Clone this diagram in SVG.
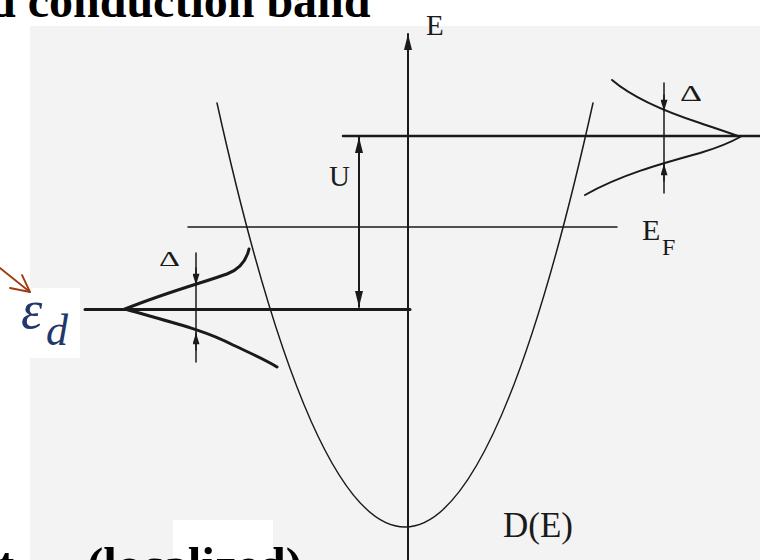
<svg xmlns="http://www.w3.org/2000/svg" width="760" height="560" viewBox="0 0 760 560">
<defs>
<style>
.ln{fill:none;stroke:#1a1a1a;stroke-linecap:round}
.thin{stroke-width:1.5}
.mid{stroke-width:2}
.thick{stroke-width:3}
.lbl{font-family:"Liberation Serif","DejaVu Serif",serif;fill:#1a1a1a}
.big{font-family:"Liberation Serif","Times New Roman",serif;font-weight:bold;fill:#000}
</style>
<marker id="ah" viewBox="0 0 20 10" refX="20" refY="5" markerWidth="16" markerHeight="8" markerUnits="userSpaceOnUse" orient="auto-start-reverse">
<path d="M0,0 L20,5 L0,10 Z" fill="#1a1a1a"/>
</marker>
<marker id="ahs" viewBox="0 0 16 10" refX="16" refY="5" markerWidth="14" markerHeight="7" markerUnits="userSpaceOnUse" orient="auto">
<path d="M0,0 L16,5 L0,10 Z" fill="#1a1a1a"/>
</marker>
</defs>
<rect width="760" height="560" fill="#ffffff"/>
<rect x="30" y="26" width="730" height="534" fill="#f3f3f3"/>
<rect x="0" y="288" width="80" height="70" fill="#ffffff"/>
<rect x="173" y="520" width="100" height="40" fill="#ffffff"/>

<g id="title"><text class="big" x="-11" y="17" font-size="48">d conduction band</text></g>

<g id="axis">
<line class="ln mid" x1="408" y1="560" x2="408" y2="34" marker-end="url(#ah)"/>
<text class="lbl" x="426" y="35" font-size="29">E</text>
</g>

<g id="band">
<path class="ln thin" d="M217,103 Q405,951 593,103"/>
<text class="lbl" x="503" y="537" font-size="35">D(E)</text>
</g>

<g id="levels">
<line class="ln" stroke-width="2.5" x1="343" y1="136" x2="760" y2="136"/>
<line class="ln thin" x1="188" y1="227" x2="617" y2="227"/>
<line class="ln thick" x1="85" y1="309.5" x2="410" y2="309.5"/>
<text class="lbl" x="642" y="240" font-size="30">E</text>
<text class="lbl" x="662" y="255" font-size="24">F</text>
</g>

<g id="U">
<line class="ln mid" x1="359" y1="150" x2="359" y2="293"/>
<line class="ln mid" x1="359" y1="200" x2="359" y2="137" marker-end="url(#ah)"/>
<line class="ln mid" x1="359" y1="250" x2="359" y2="307" marker-end="url(#ah)"/>
<text class="lbl" x="329" y="186" font-size="29">U</text>
</g>

<g id="upper-resonance">
<path class="ln mid" d="M612,80 C632,97 660,110 700,123 C720,130 733,134 740,137 C733,141 720,147 700,153 C660,164 620,175 585,195"/>
<line class="ln thin" x1="664" y1="83" x2="664" y2="193"/>
<line class="ln thin" x1="664" y1="95" x2="664" y2="111" marker-end="url(#ahs)"/>
<line class="ln thin" x1="664" y1="181" x2="664" y2="164" marker-end="url(#ahs)"/>
<text class="lbl" x="680" y="101" font-size="24" textLength="22" lengthAdjust="spacingAndGlyphs">Δ</text>
</g>

<g id="lower-resonance">
<path class="ln thick" d="M249,249 C246,262 238,270 227,274 C205,282 170,291 125,309 C170,322 205,330 233,345 C252,354 266,360 277,367"/>
<line class="ln thin" x1="196" y1="253" x2="196" y2="362"/>
<line class="ln thin" x1="196" y1="268" x2="196" y2="285" marker-end="url(#ahs)"/>
<line class="ln thin" x1="196" y1="350" x2="196" y2="333" marker-end="url(#ahs)"/>
<text class="lbl" x="159" y="266" font-size="22" textLength="21" lengthAdjust="spacingAndGlyphs">Δ</text>
</g>

<g id="eps-label">
<line x1="0" y1="268" x2="30" y2="292" stroke="#a03c10" stroke-width="1.8" stroke-linecap="round"/>
<polyline points="10,288 30,292 22,275" fill="none" stroke="#a03c10" stroke-width="1.8" stroke-linecap="round" stroke-linejoin="round"/>
<text x="21" y="328" font-family="'Liberation Serif','DejaVu Serif',serif" font-style="italic" font-size="54" fill="#22386a">ε</text>
<text x="46" y="345" font-family="'Liberation Serif','DejaVu Serif',serif" font-style="italic" font-size="44" fill="#22386a">d</text>
</g>

<g id="footer">
<text class="big" x="-2" y="581" font-size="49">t</text>
<text class="big" x="87" y="581" font-size="49">(localized)</text>
</g>
</svg>
